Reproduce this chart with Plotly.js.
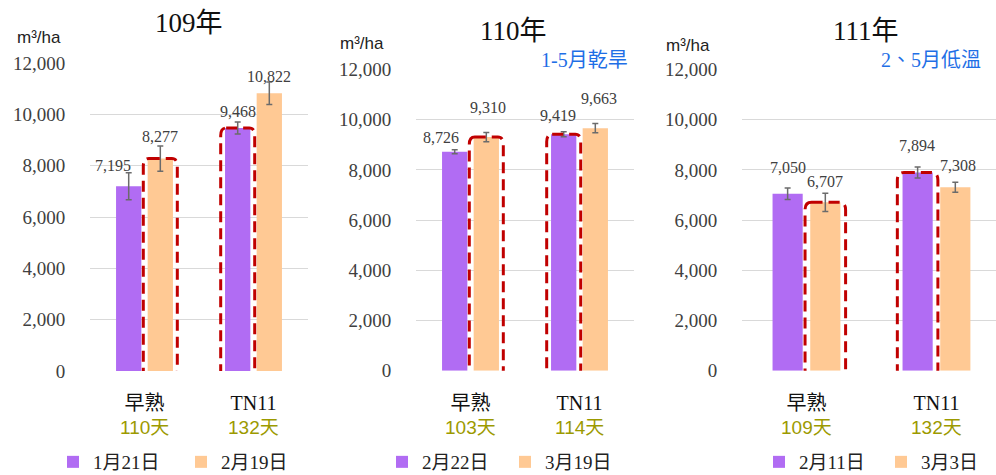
<!DOCTYPE html>
<html>
<head>
<meta charset="utf-8">
<script src="https://cdn.plot.ly/plotly-3.0.1.min.js"></script>
<style>html,body{margin:0;padding:0;background:#fff;}#chart{width:996px;height:475px;}</style>
</head>
<body>
<div id="chart"></div>
<script>
// ---- data ----
const categories = ['早熟', 'TN11'];
const yearTitles = ['109年', '110年', '111年'];
const notes = ['', '1-5月乾旱', '2、5月低溫'];
const unitLabel = 'm³/ha';
const yTickVals = [0, 2000, 4000, 6000, 8000, 10000, 12000];

const days109 = ['110天', '132天'];
const days110 = ['103天', '114天'];
const days111 = ['109天', '132天'];

const dates109 = ['1月21日', '2月19日'];
const dates110 = ['2月22日', '3月19日'];
const dates111 = ['2月11日', '3月3日'];

const first109 = [7195, 9468];
const second109 = [8277, 10822];
const first110 = [8726, 9419];
const second110 = [9310, 9663];
const first111 = [7050, 7894];
const second111 = [6707, 7308];

const firstErr109 = [525, 235];
const secondErr109 = [490, 435];
const firstErr110 = [80, 100];
const secondErr110 = [185, 185];
const firstErr111 = [230, 220];
const secondErr111 = [360, 200];

// which series (0 = first sowing, 1 = second sowing) is highlighted per category
const highlight109 = [1, 0];
const highlight110 = [1, 0];
const highlight111 = [1, 0];

// ---- styling ----
const PURPLE = '#b16cf3', ORANGE = '#ffc994', RED = '#c00000', BLUE = '#1f6fe6', OLIVE = '#9c9a00';
const SERIF = '"Liberation Serif", "Noto Sans CJK TC", serif';
const SANS = '"Liberation Sans", "Noto Sans CJK TC", sans-serif';
const W = 996, H = 475;
const BARGAP = 0.42, GROUPGAP = 0.2;
const half = (1 - BARGAP) / 4;            // offset of each bar center from category center
const barW = (1 - BARGAP) / 2 * (1 - GROUPGAP);

const panels = [
  {days: days109, dates: dates109, vals: [first109, second109], errs: [firstErr109, secondErr109], hl: highlight109,
   xdom: [90, 308], ydom: [371, 63], xr: [-0.5, 1.5],
   title: [189, 23], unit: [39, 38], note: null, legX: 53, entry: 83,
   lab: [[[-16, 7], [0, 10]], [[0, 9], [0, 6]]]},
  {days: days110, dates: dates110, vals: [first110, second110], errs: [firstErr110, secondErr110], hl: highlight110,
   xdom: [416, 634], ydom: [370.7, 69.5], xr: [-0.5, 1.5],
   title: [513, 31], unit: [362, 44], note: [584, 60], legX: 382, entry: 78,
   lab: [[[-14, 12], [-6, 16]], [[2, 25], [4, 25]]]},
  {days: days111, dates: dates111, vals: [first111, second111], errs: [firstErr111, secondErr111], hl: highlight111,
   xdom: [742, 996], ydom: [370.7, 69.5], xr: [-0.496, 1.458],
   title: [866, 31], unit: [688, 46], note: [931, 60], legX: 759, entry: 77,
   lab: [[[0, 20], [-1, 22]], [[0, 12], [3, 17]]]}
];

const traces = [];
const annotations = [];
const shapes = [];
const layout = {
  width: W, height: H,
  margin: {l: 0, r: 0, t: 0, b: 0, autoexpand: false},
  paper_bgcolor: '#fff', plot_bgcolor: '#fff',
  barmode: 'group', bargap: BARGAP, bargroupgap: GROUPGAP,
  showlegend: true,
  font: {family: SERIF, color: '#404040'}
};

panels.forEach((p, k) => {
  const sfx = k === 0 ? '' : String(k + 1);
  const xa = 'x' + sfx, ya = 'y' + sfx;
  const leg = 'legend' + sfx;
  [0, 1].forEach(s => {
    traces.push({
      type: 'bar', x: [0, 1], y: p.vals[s],
      name: p.dates[s], legend: leg,
      xaxis: xa, yaxis: ya,
      marker: {color: s === 0 ? PURPLE : ORANGE, line: {width: 0}},
      error_y: {type: 'data', array: p.errs[s], visible: true, color: '#6b6b6b', thickness: 1.5, width: 3},
      hoverinfo: 'skip'
    });
    // value labels
    p.vals[s].forEach((v, i) => {
      annotations.push({
        xref: xa, yref: ya, x: i + (s === 0 ? -half : half), y: v + p.errs[s][i],
        text: v.toLocaleString('en-US'), showarrow: false,
        xanchor: 'center', yanchor: 'middle',
        xshift: p.lab[s][i][0], yshift: p.lab[s][i][1],
        font: {family: SERIF, size: 16, color: '#404040'}
      });
    });
  });
  // highlight boxes (rounded, dashed)
  p.hl.forEach((s, i) => {
    const c = i + (s === 0 ? -half : half);
    const x0 = c - barW / 2 - 0.04, x1 = c + barW / 2 + 0.04;
    const y0 = -250, y1 = p.vals[s][i];
    const rx = 0.05, ry = 300;
    const path = `M ${x0 + rx},${y1} L ${x1 - rx},${y1} Q ${x1},${y1} ${x1},${y1 - ry} L ${x1},${y0 + ry} Q ${x1},${y0} ${x1 - rx},${y0} L ${x0 + rx},${y0} Q ${x0},${y0} ${x0},${y0 + ry} L ${x0},${y1 - ry} Q ${x0},${y1} ${x0 + rx},${y1} Z`;
    shapes.push({type: 'path', xref: xa, yref: ya, path: path,
      line: {color: RED, width: 3, dash: '11px,6px'}, fillcolor: 'rgba(0,0,0,0)', layer: 'above'});
  });
  // days under categories
  p.days.forEach((d, i) => {
    annotations.push({xref: xa, yref: 'paper', x: i, y: (H - 427) / H, text: d, showarrow: false,
      xanchor: 'center', yanchor: 'middle', font: {family: SANS, size: 19, color: OLIVE}});
  });
  // year title
  annotations.push({xref: 'paper', yref: 'paper', x: p.title[0] / W, y: (H - p.title[1]) / H,
    text: yearTitles[k], showarrow: false, xanchor: 'center', yanchor: 'middle',
    font: {family: SERIF, size: 27, color: '#111'}});
  // unit
  annotations.push({xref: 'paper', yref: 'paper', x: p.unit[0] / W, y: (H - p.unit[1]) / H,
    text: unitLabel, showarrow: false, xanchor: 'center', yanchor: 'middle',
    font: {family: SANS, size: 17, color: '#222'}});
  if (p.note) {
    annotations.push({xref: 'paper', yref: 'paper', x: p.note[0] / W, y: (H - p.note[1]) / H,
      text: notes[k], showarrow: false, xanchor: 'center', yanchor: 'middle',
      font: {family: SERIF, size: 20, color: BLUE}});
  }
  layout['xaxis' + sfx] = {
    domain: [p.xdom[0] / W, p.xdom[1] / W], anchor: ya, range: p.xr, fixedrange: true,
    tickvals: [0, 1], ticktext: categories, ticks: 'outside', ticklen: 14, tickcolor: 'rgba(0,0,0,0)',
    showgrid: false, zeroline: false, showline: false,
    tickfont: {family: SERIF, size: 20, color: '#111'}
  };
  layout['yaxis' + sfx] = {
    domain: [(H - p.ydom[0]) / H, (H - p.ydom[1]) / H], anchor: xa, range: [0, 12000], fixedrange: true,
    tickvals: yTickVals, ticktext: yTickVals.map(v => v.toLocaleString('en-US')),
    ticks: 'outside', ticklen: 20, tickcolor: 'rgba(0,0,0,0)',
    showgrid: true, gridcolor: '#d9d9d9', gridwidth: 1, zeroline: false, showline: false,
    tickfont: {family: SERIF, size: 19, color: '#404040'}
  };
  layout[leg] = {
    orientation: 'h', x: p.legX / W, xanchor: 'left', y: -6 / H, yanchor: 'bottom',
    entrywidth: p.entry, entrywidthmode: 'pixels', bgcolor: 'rgba(0,0,0,0)',
    font: {family: SERIF, size: 19, color: '#222'}, itemclick: false, itemdoubleclick: false,
    tracegroupgap: 0
  };
});

layout.annotations = annotations;
layout.shapes = shapes;

Plotly.newPlot('chart', traces, layout, {staticPlot: true, displayModeBar: false});
</script>
</body>
</html>
